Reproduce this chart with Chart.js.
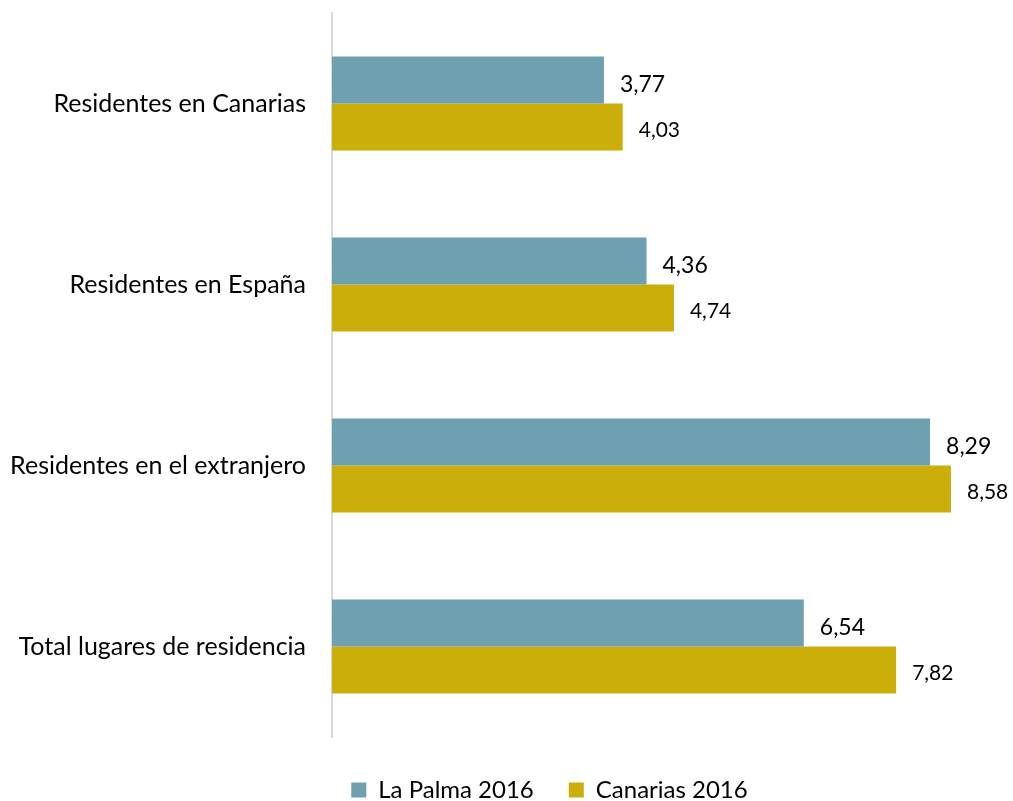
<!DOCTYPE html>
<html>
<head>
<meta charset="utf-8">
<script src="https://cdn.jsdelivr.net/npm/chart.js@4"></script>
<style>
  html, body { margin: 0; padding: 0; background: #fff; }
  #wrap { width: 1013px; height: 801px; position: relative; }
</style>
</head>
<body>
<div id="wrap"><canvas id="chart"></canvas></div>
<script>
const categories = ['Residentes en Canarias', 'Residentes en España', 'Residentes en el extranjero', 'Total lugares de residencia'];
const laPalma = [3.77, 4.36, 8.29, 6.54];
const canarias = [4.03, 4.74, 8.58, 7.82];
const seriesNames = ['La Palma 2016', 'Canarias 2016'];

const COLORS = {
    teal: '#6FA0B0',
    gold: '#CCAE0B',
    axis: '#D9D9D9',
    text: '#000000'
};
const FONT = 'Lato, "Open Sans", sans-serif';

// value labels next to the bar ends, comma decimals
const barLabels = {
    id: 'barLabels',
    afterDatasetsDraw(chart) {
        const ctx = chart.ctx;
        ctx.save();
        ctx.fillStyle = COLORS.text;
        ctx.textBaseline = 'middle';
        ctx.textAlign = 'left';
        chart.data.datasets.forEach((ds, i) => {
            const meta = chart.getDatasetMeta(i);
            const size = i === 0 ? 23 : 21;
            const dy = i === 0 ? 5 : 3;
            ctx.font = size + 'px ' + FONT;
            meta.data.forEach((bar, j) => {
                const txt = ds.data[j].toFixed(2).replace('.', ',');
                ctx.fillText(txt, bar.x + 16, bar.y + dy);
            });
        });
        ctx.restore();
    }
};

// nudge the legend right/down to sit under the bars like the original
const legendShift = {
    id: 'legendShift',
    afterLayout(chart) {
        const lg = chart.legend;
        lg.left += 43;
        lg.right += 43;
        lg.top += 6;
        lg.bottom += 6;
    }
};

new Chart(document.getElementById('chart'), {
    type: 'bar',
    data: {
        labels: categories,
        datasets: [{
            label: seriesNames[0],
            data: laPalma,
            backgroundColor: COLORS.teal,
            categoryPercentage: 0.52,
            barPercentage: 1
        }, {
            label: seriesNames[1],
            data: canarias,
            backgroundColor: COLORS.gold,
            categoryPercentage: 0.52,
            barPercentage: 1
        }]
    },
    options: {
        indexAxis: 'y',
        responsive: true,
        maintainAspectRatio: false,
        animation: false,
        layout: { padding: { top: 13, right: 0, bottom: -5, left: 0 } },
        scales: {
            x: {
                display: false,
                min: 0,
                max: 9.44
            },
            y: {
                grid: { display: false, drawTicks: false },
                border: { display: true, color: COLORS.axis, width: 2 },
                ticks: {
                    color: COLORS.text,
                    padding: 26,
                    font: { family: FONT, size: 25 }
                },
                afterFit(scale) {
                    scale.width = 332;
                    scale.paddingTop = 0;
                    scale.paddingBottom = 0;
                }
            }
        },
        plugins: {
            legend: {
                position: 'bottom',
                labels: {
                    color: COLORS.text,
                    boxWidth: 15,
                    boxHeight: 15,
                    padding: 35,
                    font: { family: FONT, size: 24 }
                }
            },
            tooltip: { enabled: false }
        }
    },
    plugins: [barLabels, legendShift]
});
</script>
</body>
</html>
